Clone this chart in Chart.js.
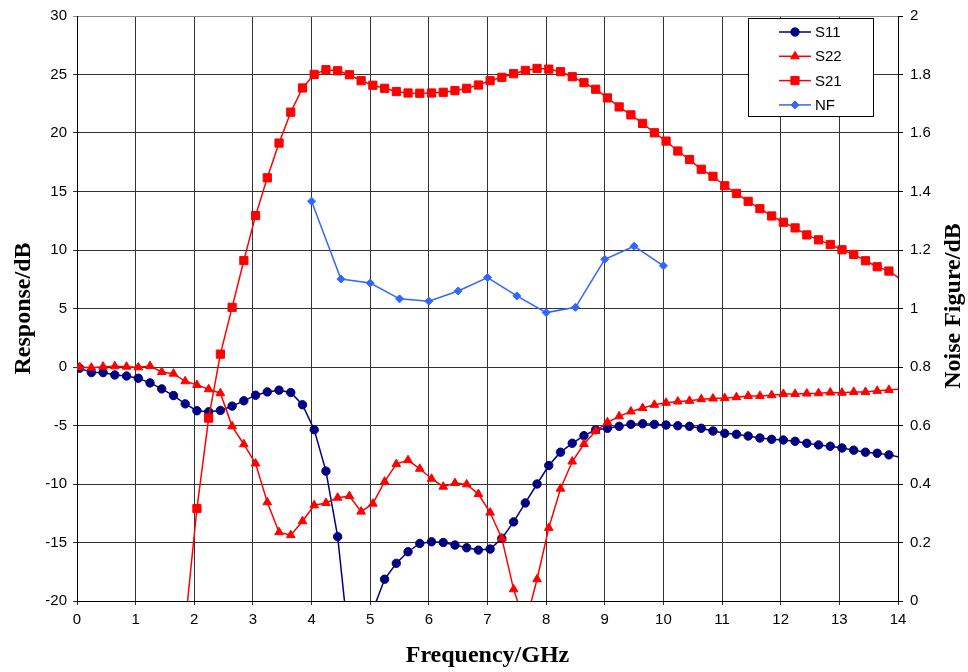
<!DOCTYPE html>
<html lang="en">
<head>
  <meta charset="UTF-8" />
  <title>S-parameters and Noise Figure</title>
  <script src="https://cdn.jsdelivr.net/npm/chart.js"></script>
  <style>
    body {
      margin: 0;
      background: #ffffff;
    }
    #wrap {
      width: 968px;
      height: 672px;
      position: relative;
    }
  </style>
</head>
<body>
  <div id="wrap"><canvas id="chart"></canvas></div>

  <script>
    // sweep frequencies (GHz)
    const freqGHz = [0.045, 0.245, 0.445, 0.645, 0.845, 1.045, 1.245, 1.445, 1.645, 1.845,
      2.045, 2.245, 2.445, 2.645, 2.845, 3.045, 3.245, 3.445, 3.645, 3.845,
      4.045, 4.245, 4.445, 4.645, 4.845, 5.045, 5.245, 5.445, 5.645, 5.845,
      6.045, 6.245, 6.445, 6.645, 6.845, 7.045, 7.245, 7.445, 7.645, 7.845,
      8.045, 8.245, 8.445, 8.645, 8.845, 9.045, 9.245, 9.445, 9.645, 9.845,
      10.045, 10.245, 10.445, 10.645, 10.845, 11.045, 11.245, 11.445, 11.645, 11.845,
      12.045, 12.245, 12.445, 12.645, 12.845, 13.045, 13.245, 13.445, 13.645, 13.845,
      14.045];

    const s11 = [-0.1, -0.48, -0.48, -0.68, -0.77, -0.96, -1.36, -1.87, -2.44, -3.15,
      -3.74, -3.83, -3.71, -3.34, -2.89, -2.41, -2.13, -1.98, -2.18, -3.23,
      -5.36, -8.9, -14.5, -24, -26, -20.8, -18.14, -16.78, -15.79, -15.08,
      -14.94, -15.0, -15.22, -15.45, -15.65, -15.56, -14.65, -13.24, -11.62, -10.0,
      -8.42, -7.28, -6.52, -5.87, -5.36, -5.24, -5.07, -4.9, -4.85, -4.9,
      -4.96, -5.02, -5.07, -5.24, -5.47, -5.67, -5.75, -5.9, -6.07, -6.18,
      -6.24, -6.35, -6.52, -6.66, -6.77, -6.92, -7.11, -7.28, -7.37, -7.51,
      -7.72];

    const s22 = [0, -0.06, 0.03, 0.06, 0.03, -0.03, 0.08, -0.43, -0.57, -1.22,
      -1.53, -1.9, -2.24, -5.07, -6.6, -8.25, -11.56, -14.12, -14.37, -13.18,
      -11.82, -11.62, -11.17, -11.03, -12.36, -11.68, -9.8, -8.3, -7.96, -8.7,
      -9.55, -10.23, -9.92, -10.03, -10.86, -12.44, -14.65, -19.0, -22, -18.14,
      -13.75, -10.4, -8.08, -6.58, -5.47, -4.73, -4.22, -3.8, -3.51, -3.23,
      -3.06, -2.95, -2.89, -2.75, -2.69, -2.66, -2.58, -2.47, -2.47, -2.41,
      -2.3, -2.3, -2.27, -2.24, -2.18, -2.2, -2.13, -2.13, -2.04, -1.96,
      -1.88];

    // below the axis at low frequency -> not readable, left empty
    const s21 = [null, null, null, null, null, null, null, null, null, -22,
      -12.1, -4.37, 1.1, 5.1, 9.1, 12.94, 16.17, 19.14, 21.78, 23.85,
      25.01, 25.41, 25.32, 24.98, 24.47, 24.08, 23.82, 23.54, 23.42, 23.4,
      23.42, 23.48, 23.62, 23.82, 24.1, 24.47, 24.76, 25.07, 25.35, 25.52,
      25.46, 25.24, 24.81, 24.3, 23.74, 23.0, 22.23, 21.55, 20.82, 20.02,
      19.31, 18.46, 17.73, 16.9, 16.3, 15.49, 14.84, 14.16, 13.53, 12.91,
      12.37, 11.89, 11.29, 10.87, 10.47, 10.02, 9.62, 9.08, 8.57, 8.2,
      7.5];

    const nfFreq = [4, 4.5, 5, 5.5, 6, 6.5, 7, 7.5, 8, 8.5, 9, 9.5, 10];
    const nf = [1.367, 1.101, 1.087, 1.033, 1.025, 1.06, 1.106, 1.043, 0.986, 1.004, 1.168, 1.213, 1.146];

    const sans = 'Arial, "Liberation Sans", sans-serif';
    const serif = '"Times New Roman", "Liberation Serif", serif';
    const gridColor = '#333333';

    function pts(xs, ys) {
      return xs.map((x, i) => ({ x: x, y: ys[i] }));
    }
    // hide the marker that sits just past the 14 GHz edge
    function radius(r) {
      return c => (c.raw && c.raw.x > 14 ? 0 : r);
    }

    const series = [
      { label: 'S11', data: pts(freqGHz, s11), color: '#000080', style: 'circle', r: 4.2, order: 4, axis: 'y' },
      { label: 'S22', data: pts(freqGHz, s22), color: '#ff0000', style: 'triangle', r: 5, order: 3, axis: 'y' },
      { label: 'S21', data: pts(freqGHz, s21), color: '#ff0000', style: 'rect', r: 5.8, order: 2, axis: 'y' },
      { label: 'NF', data: pts(nfFreq, nf), color: '#3366ff', style: 'rectRot', r: 4, order: 1, axis: 'y2' }
    ];

    const datasets = series.map(s => ({
      label: s.label,
      data: s.data,
      yAxisID: s.axis,
      order: s.order,
      borderColor: s.color,
      backgroundColor: s.color,
      borderWidth: 1.5,
      pointStyle: s.style,
      pointRadius: radius(s.r),
      pointBackgroundColor: s.color,
      pointBorderColor: s.color,
      pointBorderWidth: 1,
      markerR: s.r,
      tension: 0,
      spanGaps: false
    }));

    // legend box inside the plot, top right
    const legendBox = {
      id: 'legendBox',
      afterDraw(chart) {
        const ctx = chart.ctx;
        ctx.save();
        ctx.fillStyle = '#ffffff';
        ctx.fillRect(748.5, 18.5, 125, 98);
        ctx.strokeStyle = '#000000';
        ctx.lineWidth = 1;
        ctx.strokeRect(748.5, 18.5, 125, 98);
        chart.data.datasets.forEach((ds, i) => {
          const y = 32 + i * 24.3;
          ctx.strokeStyle = ds.borderColor;
          ctx.fillStyle = ds.borderColor;
          ctx.lineWidth = 1.5;
          ctx.beginPath();
          ctx.moveTo(779, y);
          ctx.lineTo(811, y);
          ctx.stroke();
          ctx.lineWidth = 1;
          Chart.helpers.drawPoint(ctx, { pointStyle: ds.pointStyle, radius: ds.markerR, borderWidth: 1, rotation: 0 }, 795, y);
          ctx.fillStyle = '#000000';
          ctx.font = '15px ' + sans;
          ctx.textAlign = 'left';
          ctx.textBaseline = 'middle';
          ctx.fillText(ds.label, 815, y + 1);
        });
        // right axis title, reading bottom to top like the left one
        ctx.translate(954, 306);
        ctx.rotate(-Math.PI / 2);
        ctx.font = 'bold 24px ' + serif;
        ctx.textAlign = 'center';
        ctx.textBaseline = 'middle';
        ctx.fillStyle = '#000000';
        ctx.fillText('Noise Figure/dB', 0, 0);
        ctx.restore();
      }
    };

    const ctx = document.getElementById('chart').getContext('2d');
    new Chart(ctx, {
      type: 'line',
      data: { datasets: datasets },
      plugins: [legendBox],
      options: {
        responsive: true,
        maintainAspectRatio: false,
        animation: false,
        layout: { padding: { top: 11, left: 0, right: 0, bottom: 0 } },
        plugins: {
          legend: { display: false },
          tooltip: { enabled: false }
        },
        scales: {
          x: {
            type: 'linear',
            min: 0,
            max: 14,
            ticks: { stepSize: 1, color: '#000', font: { family: sans, size: 15 }, padding: 6, maxRotation: 0 },
            grid: { color: gridColor, tickLength: 4 },
            border: { color: '#000' },
            title: {
              display: true,
              text: 'Frequency/GHz',
              color: '#000',
              font: { family: serif, size: 24, weight: 'bold' },
              padding: { top: 0, bottom: 2 }
            },
            afterFit: s => { s.height = 71; }
          },
          y: {
            position: 'left',
            min: -20,
            max: 30,
            ticks: { stepSize: 5, color: '#000', font: { family: sans, size: 15 }, padding: 6 },
            grid: {
              color: c => (c.tick && c.tick.value === 30 ? '#8c8c8c' : gridColor),
              tickLength: 4
            },
            border: { color: '#000' },
            title: {
              display: true,
              text: 'Response/dB',
              color: '#000',
              font: { family: serif, size: 24, weight: 'bold' },
              padding: { top: 9, bottom: 0 }
            },
            afterFit: s => { s.width = 77; }
          },
          y2: {
            position: 'right',
            min: 0,
            max: 2,
            ticks: {
              stepSize: 0.2,
              color: '#000',
              font: { family: sans, size: 15 },
              padding: 7,
              callback: v => String(Number(v.toFixed(1)))
            },
            grid: { drawOnChartArea: false, color: '#000', tickLength: 5 },
            border: { color: '#000' },
            afterFit: s => { s.width = 70; }
          }
        }
      }
    });
  </script>
</body>
</html>
